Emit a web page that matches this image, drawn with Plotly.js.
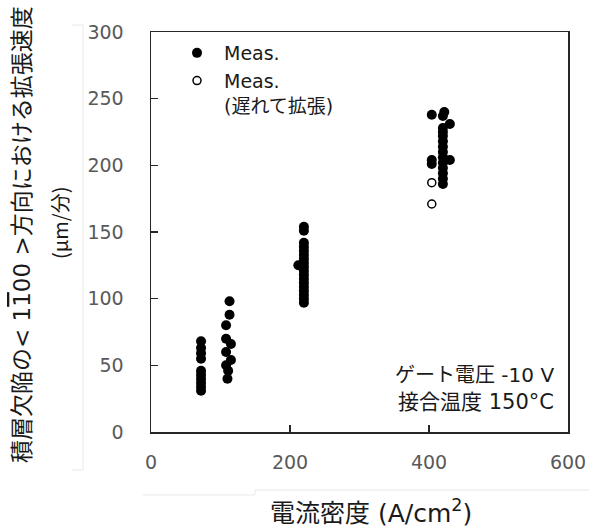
<!DOCTYPE html>
<html>
<head>
<meta charset="utf-8">
<script src="https://cdn.plot.ly/plotly-3.0.1.min.js"></script>
<style>html,body{margin:0;padding:0;background:#fff;}#chart{width:589px;height:528px;}</style>
</head>
<body>
<div id="chart"></div>
<script>
// Current density (A/cm^2) and expansion speed (um/min), filled markers "Meas."
const measCurrentDensity = [
  72, 72, 72, 72, 72, 72, 72, 72, 72, 72,
  113, 113, 108, 108, 115, 108, 115, 108, 111, 110,
  220, 220, 220, 220, 220, 220, 220, 220, 220, 220, 220, 220, 220, 220, 220, 220, 220, 220, 212,
  404, 404, 404, 422, 420, 430, 420, 420, 420, 420, 420, 420, 420, 420, 430, 420, 420, 420, 420
];
const measSpeed = [
  68, 63, 59, 55, 46, 43, 40, 37, 34, 31,
  98, 88, 80, 70, 66, 60, 54, 50, 46, 40,
  154, 151, 142, 139, 136, 133, 130, 127, 124, 121, 118, 115, 112, 109, 106, 103, 100, 97, 125,
  238, 204, 201, 240, 237, 231, 228, 225, 222, 218, 214, 210, 206, 202, 204, 198, 194, 190, 186
];
// Open markers "Meas. (遅れて拡張)"
const delayedCurrentDensity = [404, 404];
const delayedSpeed = [187, 171];

const xTickVals = [0, 200, 400, 600];
const yTickVals = [0, 50, 100, 150, 200, 250, 300];

const FONT = "'DejaVu Sans', 'Noto Sans CJK JP', sans-serif";
const AX = '#262626';

const traces = [
  {
    type: 'scatter', mode: 'markers', name: 'Meas.',
    x: measCurrentDensity, y: measSpeed,
    marker: {color: '#000000', size: 10}
  },
  {
    type: 'scatter', mode: 'markers', name: 'Meas.<br>(遅れて拡張)',
    x: delayedCurrentDensity, y: delayedSpeed,
    marker: {color: '#000000', size: 8, symbol: 'circle-open', line: {width: 1.5, color: '#000000'}}
  }
];

function px2x(p){ return (p - 151) / 417; }
function px2y(p){ return (432 - p) / 400; }

const faint = '#e9e9e9';
const shapes = [
  {type:'line', xref:'paper', yref:'paper', x0:px2x(83), x1:px2x(83), y0:px2y(25), y1:px2y(470), line:{color:faint, width:1}},
  {type:'line', xref:'paper', yref:'paper', x0:px2x(72), x1:px2x(83), y0:px2y(25), y1:px2y(25), line:{color:faint, width:1}},
  {type:'line', xref:'paper', yref:'paper', x0:px2x(72), x1:px2x(83), y0:px2y(470), y1:px2y(470), line:{color:faint, width:1}},
  {type:'line', xref:'paper', yref:'paper', x0:px2x(255), x1:px2x(589), y0:px2y(490), y1:px2y(490), line:{color:faint, width:1}},
  {type:'line', xref:'paper', yref:'paper', x0:px2x(143), x1:px2x(255), y0:px2y(495), y1:px2y(495), line:{color:faint, width:1}},
  {type:'line', xref:'paper', yref:'paper', x0:px2x(255), x1:px2x(255), y0:px2y(490), y1:px2y(495), line:{color:faint, width:1}}
];

const layout = {
  width: 589, height: 528,
  margin: {l: 151, r: 21, t: 32, b: 96, pad: 0},
  paper_bgcolor: '#ffffff', plot_bgcolor: '#ffffff',
  font: {family: FONT, color: '#000000'},
  showlegend: true,
  legend: {
    x: px2x(170), y: px2y(34), xanchor: 'left', yanchor: 'top',
    bgcolor: 'rgba(0,0,0,0)', borderwidth: 0,
    font: {family: FONT, size: 19, color: '#1a1a1a'},
    itemwidth: 44, valign: 'top', tracegroupgap: 0
  },
  xaxis: {
    range: [0, 600], tickvals: xTickVals, ticktext: xTickVals.map(String),
    ticks: 'inside', ticklen: 7, tickwidth: 1.5, tickcolor: AX,
    showline: true, linecolor: AX, linewidth: 1.5, mirror: true,
    showgrid: false, zeroline: false,
    tickfont: {family: FONT, size: 19, color: '#595959'},
    ticklabelstandoff: 13
  },
  yaxis: {
    range: [0, 300], tickvals: yTickVals, ticktext: yTickVals.map(String),
    ticks: 'inside', ticklen: 7, tickwidth: 1.5, tickcolor: AX,
    showline: true, linecolor: AX, linewidth: 1.5, mirror: true,
    showgrid: false, zeroline: false,
    tickfont: {family: FONT, size: 19, color: '#595959'},
    ticklabelstandoff: 22
  },
  shapes: shapes,
  annotations: [
    {text: '積層欠陥の< 1<span style="text-decoration:overline">1</span>00 >方向における拡張速度', xref:'paper', yref:'paper',
     x: px2x(22), y: px2y(235), xanchor:'center', yanchor:'middle', textangle: -90, showarrow:false,
     font:{family: FONT, size: 23, color:'#1a1a1a'}},
    {text: '(μm/分)', xref:'paper', yref:'paper',
     x: px2x(59), y: px2y(223), xanchor:'center', yanchor:'middle', textangle: -90, showarrow:false,
     font:{family: "'Noto Sans CJK JP', sans-serif", size: 20, color:'#1a1a1a'}},
    {text: '電流密度 (A/cm<sup>2</sup>)', xref:'paper', yref:'paper',
     x: px2x(371), y: px2y(511), xanchor:'center', yanchor:'middle', showarrow:false,
     font:{family: FONT, size: 25, color:'#1a1a1a'}},
    {text: 'ゲート電圧 -10 V', xref:'paper', yref:'paper',
     x: px2x(556), y: px2y(375), xanchor:'right', yanchor:'middle', showarrow:false,
     font:{family: FONT, size: 20, color:'#1a1a1a'}},
    {text: '接合温度 150°C', xref:'paper', yref:'paper',
     x: px2x(556), y: px2y(402), xanchor:'right', yanchor:'middle', showarrow:false,
     font:{family: FONT, size: 21, color:'#1a1a1a'}}
  ]
};

Plotly.newPlot('chart', traces, layout, {staticPlot: true, displayModeBar: false});
</script>
</body>
</html>
